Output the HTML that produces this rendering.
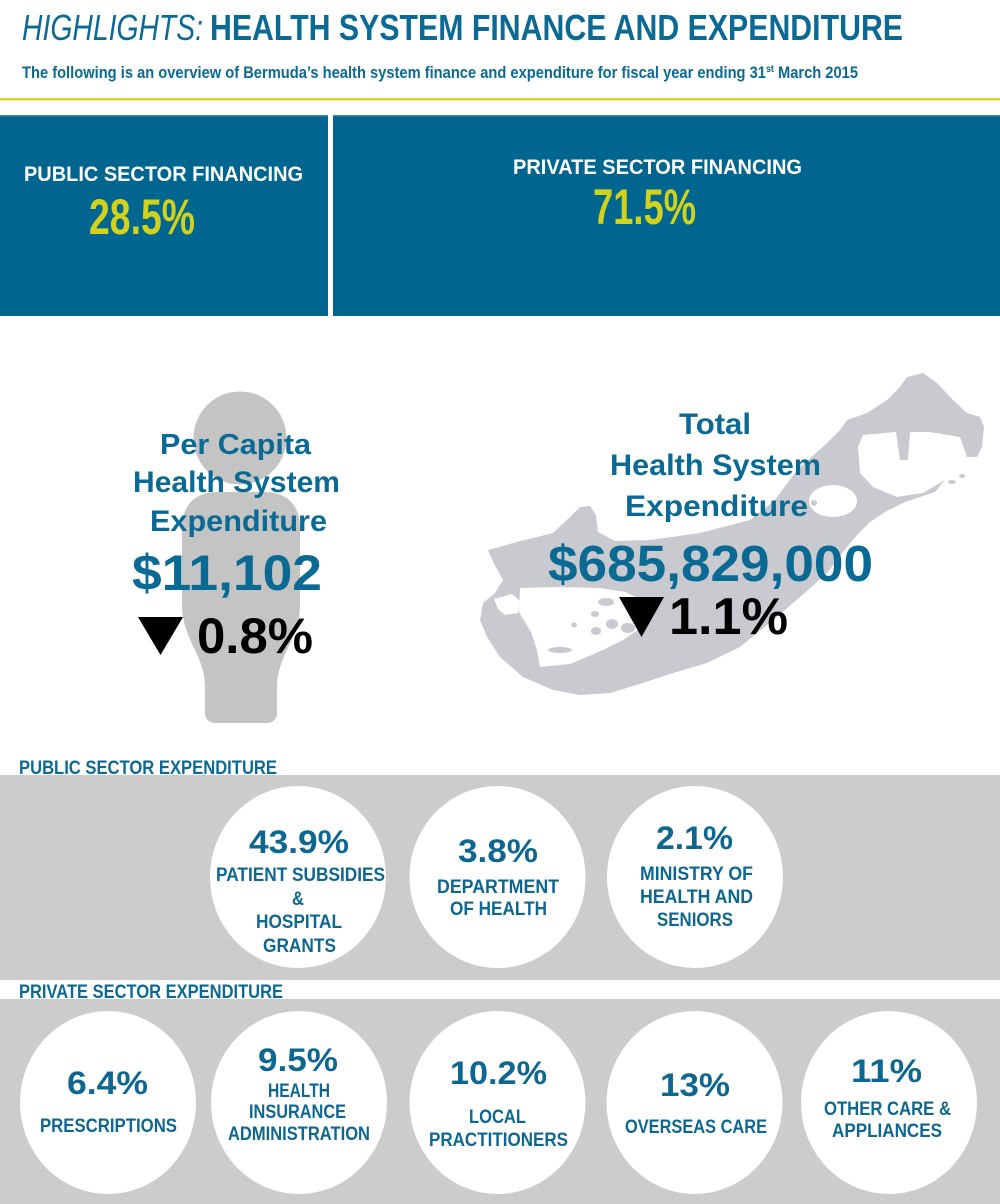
<!DOCTYPE html>
<html>
<head>
<meta charset="utf-8">
<style>
  html,body{margin:0;padding:0;background:#ffffff;}
  svg{display:block;}
  text{font-family:"Liberation Sans",Arial,sans-serif;}
</style>
</head>
<body>
<svg width="1000" height="1204" viewBox="0 0 1000 1204" xmlns="http://www.w3.org/2000/svg">
  <rect x="0" y="0" width="1000" height="1204" fill="#ffffff"/>

  <!-- Header -->
  <text x="22" y="40" font-size="36" font-style="italic" font-weight="normal" fill="#0b6a94" textLength="181" lengthAdjust="spacingAndGlyphs">HIGHLIGHTS:</text>
  <text x="210" y="40" font-size="36" font-weight="bold" fill="#0b6a94" textLength="693" lengthAdjust="spacingAndGlyphs">HEALTH SYSTEM FINANCE AND EXPENDITURE</text>
  <text x="22" y="78" font-size="16.5" font-weight="bold" fill="#0b6a94" textLength="836" lengthAdjust="spacingAndGlyphs">The following is an overview of Bermuda’s health system finance and expenditure for fiscal year ending 31<tspan font-size="10" dy="-6">st</tspan><tspan font-size="16.5" dy="6"> March 2015</tspan></text>
  <rect x="0" y="98" width="1000" height="2.5" fill="#d6d62a"/>

  <!-- Financing boxes -->
  <rect x="0" y="115" width="328" height="201" fill="#00668f"/>
  <rect x="333" y="115" width="667" height="201" fill="#00668f"/>
  <rect x="0" y="115" width="328" height="1.5" fill="#3a86a8"/>
  <rect x="333" y="115" width="667" height="1.5" fill="#3a86a8"/>
  <text x="24" y="181" font-size="21" font-weight="bold" fill="#ffffff" textLength="279" lengthAdjust="spacingAndGlyphs">PUBLIC SECTOR FINANCING</text>
  <text x="89" y="234" font-size="50" font-weight="bold" fill="#d0d21c" textLength="106" lengthAdjust="spacingAndGlyphs">28.5%</text>
  <text x="513" y="174" font-size="21" font-weight="bold" fill="#ffffff" textLength="289" lengthAdjust="spacingAndGlyphs">PRIVATE SECTOR FINANCING</text>
  <text x="593" y="224" font-size="50" font-weight="bold" fill="#d0d21c" textLength="103" lengthAdjust="spacingAndGlyphs">71.5%</text>

  <!-- Person figure -->
  <circle cx="240" cy="438" r="46.5" fill="#c4c4c4"/>
  <path d="M 182,528 C 182,505 195,492 218,492 L 264,492 C 287,492 300,505 300,528 L 300,605 C 300,638 278,655 277,685 L 277,712 Q 277,723 266,723 L 216,723 Q 205,723 205,712 L 205,685 C 204,655 182,638 182,605 Z" fill="#c4c4c4"/>

  <!-- Bermuda map -->
  <path d="M 907,377 L 923,373 L 937,383 L 953,400 L 967,413 L 980,417 L 984,427 L 982,447 L 977,457 L 967,457 L 960,437 L 930,432 L 910,432 L 908,460 L 900,460 L 896,432 L 863,435 L 858,447 L 860,473 L 873,487 L 897,497 L 923,493 L 945,480 L 935,492 L 905,502 L 885,512 L 870,522 L 857,535 L 847,547 L 827,573 L 800,597 L 773,620 L 740,647 L 707,663 L 673,673 L 643,683 L 610,693 L 580,695 L 553,690 L 523,677 L 500,657 L 487,637 L 480,620 L 483,603 L 495,593 L 503,580 L 493,562 L 488,550 L 517,542 L 553,533 L 570,517 L 580,507 L 590,506 L 596,515 L 598,532 L 615,541 L 650,540 L 700,533 L 750,520 L 775,500 L 797,470 L 827,443 L 840,430 L 847,420 L 867,413 L 887,400 L 900,387 Z" fill="#c8cad0"/>
  <!-- Harrington Sound -->
  <ellipse cx="833" cy="501" rx="24" ry="16" fill="#ffffff"/>
  <circle cx="814" cy="503" r="3" fill="#c8cad0"/>
  <!-- Great Sound -->
  <path d="M 520,588 L 560,587 L 600,588 L 625,592 L 642,600 L 645,625 L 623,640 L 603,650 L 570,664 L 540,667 L 537,650 L 531,632 L 519,612 Z" fill="#ffffff"/>
  <path d="M 494,599 L 512,594 L 520,601 L 518,613 L 505,615 L 498,609 Z" fill="#ffffff"/>
  <ellipse cx="606" cy="602" rx="8" ry="4" fill="#c8cad0"/>
  <ellipse cx="612" cy="624" rx="6" ry="5" fill="#c8cad0"/>
  <ellipse cx="596" cy="631" rx="5" ry="4" fill="#c8cad0"/>
  <ellipse cx="628" cy="628" rx="7" ry="5" fill="#c8cad0"/>
  <ellipse cx="595" cy="614" rx="4" ry="3" fill="#c8cad0"/>
  <ellipse cx="574" cy="625" rx="3" ry="2.5" fill="#c8cad0"/>
  <ellipse cx="560" cy="650" rx="12" ry="3" fill="#c8cad0"/>
  <!-- small islands east -->
  <ellipse cx="952" cy="482" rx="4" ry="2" fill="#c8cad0"/>
  <ellipse cx="962" cy="476" rx="3" ry="2" fill="#c8cad0"/>

  <!-- Per capita text -->
  <text x="160" y="454" font-size="29" font-weight="bold" fill="#0b6a94" textLength="151" lengthAdjust="spacingAndGlyphs">Per Capita</text>
  <text x="133" y="492" font-size="30" font-weight="bold" fill="#0b6a94" textLength="207" lengthAdjust="spacingAndGlyphs">Health System</text>
  <text x="150" y="531" font-size="30" font-weight="bold" fill="#0b6a94" textLength="177" lengthAdjust="spacingAndGlyphs">Expenditure</text>
  <text x="132" y="590" font-size="50" font-weight="bold" fill="#0b6a94" textLength="190" lengthAdjust="spacingAndGlyphs">$11,102</text>
  <polygon points="138,617 183,617 160.5,655" fill="#000000"/>
  <text x="197" y="653" font-size="50" font-weight="bold" fill="#000000" textLength="116" lengthAdjust="spacingAndGlyphs">0.8%</text>

  <!-- Total text -->
  <text x="679" y="434" font-size="30" font-weight="bold" fill="#0b6a94" textLength="72" lengthAdjust="spacingAndGlyphs">Total</text>
  <text x="610" y="475" font-size="30" font-weight="bold" fill="#0b6a94" textLength="211" lengthAdjust="spacingAndGlyphs">Health System</text>
  <text x="625" y="516" font-size="30" font-weight="bold" fill="#0b6a94" textLength="183" lengthAdjust="spacingAndGlyphs">Expenditure</text>
  <text x="548" y="581" font-size="51" font-weight="bold" fill="#0b6a94" textLength="325" lengthAdjust="spacingAndGlyphs">$685,829,000</text>
  <polygon points="619,597 664,597 641.5,637" fill="#000000"/>
  <text x="669" y="634" font-size="52" font-weight="bold" fill="#000000" textLength="119" lengthAdjust="spacingAndGlyphs">1.1%</text>

  <!-- Public sector expenditure -->
  <text x="19" y="774" font-size="19" font-weight="bold" fill="#0b6a94" textLength="258" lengthAdjust="spacingAndGlyphs">PUBLIC SECTOR EXPENDITURE</text>
  <rect x="0" y="775" width="1000" height="205" fill="#cccccc"/>
  <ellipse cx="298" cy="877" rx="88" ry="91" fill="#ffffff"/>
  <ellipse cx="497.5" cy="877" rx="88" ry="91" fill="#ffffff"/>
  <ellipse cx="695" cy="877" rx="88" ry="91" fill="#ffffff"/>

  <text x="249" y="853" font-size="32" font-weight="bold" fill="#0e6790" textLength="100" lengthAdjust="spacingAndGlyphs">43.9%</text>
  <text x="216" y="881" font-size="19" font-weight="bold" fill="#0e6790" textLength="169" lengthAdjust="spacingAndGlyphs">PATIENT SUBSIDIES</text>
  <text x="292" y="905" font-size="19" font-weight="bold" fill="#0e6790" textLength="12" lengthAdjust="spacingAndGlyphs">&amp;</text>
  <text x="256" y="928" font-size="19" font-weight="bold" fill="#0e6790" textLength="86" lengthAdjust="spacingAndGlyphs">HOSPITAL</text>
  <text x="263" y="952" font-size="19" font-weight="bold" fill="#0e6790" textLength="73" lengthAdjust="spacingAndGlyphs">GRANTS</text>

  <text x="458" y="862" font-size="32" font-weight="bold" fill="#0e6790" textLength="80" lengthAdjust="spacingAndGlyphs">3.8%</text>
  <text x="437" y="893" font-size="19" font-weight="bold" fill="#0e6790" textLength="122" lengthAdjust="spacingAndGlyphs">DEPARTMENT</text>
  <text x="450" y="915" font-size="19" font-weight="bold" fill="#0e6790" textLength="97" lengthAdjust="spacingAndGlyphs">OF HEALTH</text>

  <text x="656" y="849" font-size="32" font-weight="bold" fill="#0e6790" textLength="77" lengthAdjust="spacingAndGlyphs">2.1%</text>
  <text x="640" y="880" font-size="19" font-weight="bold" fill="#0e6790" textLength="113" lengthAdjust="spacingAndGlyphs">MINISTRY OF</text>
  <text x="640" y="903" font-size="19" font-weight="bold" fill="#0e6790" textLength="113" lengthAdjust="spacingAndGlyphs">HEALTH AND</text>
  <text x="657" y="926" font-size="19" font-weight="bold" fill="#0e6790" textLength="76" lengthAdjust="spacingAndGlyphs">SENIORS</text>

  <!-- Private sector expenditure -->
  <text x="19" y="998" font-size="19" font-weight="bold" fill="#0b6a94" textLength="264" lengthAdjust="spacingAndGlyphs">PRIVATE SECTOR EXPENDITURE</text>
  <rect x="0" y="999" width="1000" height="205" fill="#cccccc"/>
  <ellipse cx="108" cy="1102.5" rx="88" ry="91.5" fill="#ffffff"/>
  <ellipse cx="299" cy="1102.5" rx="88" ry="91.5" fill="#ffffff"/>
  <ellipse cx="497.5" cy="1102.5" rx="88" ry="91.5" fill="#ffffff"/>
  <ellipse cx="694.5" cy="1102.5" rx="88" ry="91.5" fill="#ffffff"/>
  <ellipse cx="889" cy="1102.5" rx="88" ry="91.5" fill="#ffffff"/>

  <text x="67" y="1094" font-size="32" font-weight="bold" fill="#0e6790" textLength="81" lengthAdjust="spacingAndGlyphs">6.4%</text>
  <text x="40" y="1132" font-size="19" font-weight="bold" fill="#0e6790" textLength="137" lengthAdjust="spacingAndGlyphs">PRESCRIPTIONS</text>

  <text x="258" y="1071" font-size="32" font-weight="bold" fill="#0e6790" textLength="80" lengthAdjust="spacingAndGlyphs">9.5%</text>
  <text x="268" y="1097" font-size="19" font-weight="bold" fill="#0e6790" textLength="62" lengthAdjust="spacingAndGlyphs">HEALTH</text>
  <text x="249" y="1118" font-size="19" font-weight="bold" fill="#0e6790" textLength="97" lengthAdjust="spacingAndGlyphs">INSURANCE</text>
  <text x="228" y="1140" font-size="19" font-weight="bold" fill="#0e6790" textLength="142" lengthAdjust="spacingAndGlyphs">ADMINISTRATION</text>

  <text x="450" y="1084" font-size="32" font-weight="bold" fill="#0e6790" textLength="97" lengthAdjust="spacingAndGlyphs">10.2%</text>
  <text x="469" y="1123" font-size="19" font-weight="bold" fill="#0e6790" textLength="57" lengthAdjust="spacingAndGlyphs">LOCAL</text>
  <text x="429" y="1146" font-size="19" font-weight="bold" fill="#0e6790" textLength="139" lengthAdjust="spacingAndGlyphs">PRACTITIONERS</text>

  <text x="660" y="1096" font-size="32" font-weight="bold" fill="#0e6790" textLength="70" lengthAdjust="spacingAndGlyphs">13%</text>
  <text x="625" y="1133" font-size="19" font-weight="bold" fill="#0e6790" textLength="142" lengthAdjust="spacingAndGlyphs">OVERSEAS CARE</text>

  <text x="851" y="1082" font-size="32" font-weight="bold" fill="#0e6790" textLength="71" lengthAdjust="spacingAndGlyphs">11%</text>
  <text x="824" y="1115" font-size="19" font-weight="bold" fill="#0e6790" textLength="127" lengthAdjust="spacingAndGlyphs">OTHER CARE &amp;</text>
  <text x="832" y="1137" font-size="19" font-weight="bold" fill="#0e6790" textLength="110" lengthAdjust="spacingAndGlyphs">APPLIANCES</text>
</svg>
</body>
</html>
